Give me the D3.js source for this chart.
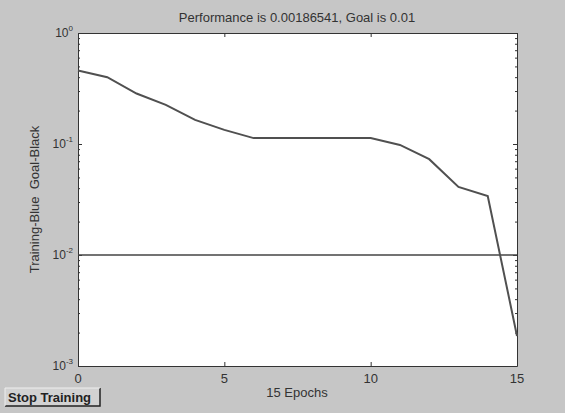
<!DOCTYPE html>
<html><head><meta charset="utf-8">
<script src="https://cdn.jsdelivr.net/npm/d3@7"></script>
<style>
html,body{margin:0;padding:0;background:#c6c6c6;}
svg{display:block;font-family:"Liberation Sans",Arial,sans-serif;}
</style></head><body>
<svg id="c" width="565" height="413"></svg>
<script>
const epochs = [0,1,2,3,4,5,6,7,8,9,10,11,12,13,14,15];
const performance = [0.46,0.40,0.285,0.225,0.165,0.134,0.113,0.113,0.113,0.113,0.113,0.098,0.073,0.041,0.034,0.00186541];
const goal = 0.01;
const xTicks = [0,5,10,15];
const yMajor = [-3,-2,-1,0];
const titleText = "Performance is 0.00186541, Goal is 0.01";
const xLabel = "15 Epochs";
const yLabel = "Training-Blue  Goal-Black";
const buttonText = "Stop Training";

const W=565,H=413;
const m={l:78,t:33,r:517,b:366};
const svg=d3.select("#c");
svg.append("rect").attr("width",W).attr("height",H).attr("fill","#c6c6c6");

const x=d3.scaleLinear().domain([0,15]).range([m.l,m.r]);
const y=d3.scaleLog().domain([1e-3,1]).range([m.b,m.t]);

svg.append("rect").attr("x",m.l).attr("y",m.t).attr("width",m.r-m.l).attr("height",m.b-m.t).attr("fill","#fff");

const ax=(g)=>g.selectAll(".domain").attr("stroke","#333");
const minor=[];
for(let e=-3;e<0;e++){for(let k=2;k<=9;k++)minor.push(k*Math.pow(10,e));}
const majorV=yMajor.map(e=>Math.pow(10,e));

svg.append("g").attr("transform",`translate(0,${m.b})`)
 .call(d3.axisBottom(x).tickValues(xTicks).tickSizeInner(-4).tickSizeOuter(0).tickFormat(""))
 .call(ax).selectAll("line").attr("stroke","#333");
svg.append("g").attr("transform",`translate(0,${m.t})`)
 .call(d3.axisTop(x).tickValues(xTicks).tickSizeInner(-4).tickSizeOuter(0).tickFormat(""))
 .call(ax).selectAll("line").attr("stroke","#333");
svg.append("g").attr("transform",`translate(${m.l},0)`)
 .call(d3.axisLeft(y).tickValues(majorV).tickSizeInner(-4).tickSizeOuter(0).tickFormat(""))
 .call(ax).selectAll("line").attr("stroke","#333");
svg.append("g").attr("transform",`translate(${m.l},0)`)
 .call(d3.axisLeft(y).tickValues(minor).tickSizeInner(-2).tickSizeOuter(0).tickFormat(""))
 .call(g=>g.select(".domain").remove()).selectAll("line").attr("stroke","#333");
svg.append("g").attr("transform",`translate(${m.r},0)`)
 .call(d3.axisRight(y).tickValues(majorV).tickSizeInner(-4).tickSizeOuter(0).tickFormat(""))
 .call(ax).selectAll("line").attr("stroke","#333");
svg.append("g").attr("transform",`translate(${m.r},0)`)
 .call(d3.axisRight(y).tickValues(minor).tickSizeInner(-2).tickSizeOuter(0).tickFormat(""))
 .call(g=>g.select(".domain").remove()).selectAll("line").attr("stroke","#333");

const tc="#333";
svg.selectAll(".xt").data(xTicks).join("text").attr("x",d=>x(d)).attr("y",m.b+17)
 .attr("text-anchor","middle").attr("font-size",13).attr("fill",tc).text(d=>d);
const yl=svg.selectAll(".yt").data(yMajor).join("text").attr("x",m.l-5).attr("y",d=>y(Math.pow(10,d))+4)
 .attr("text-anchor","end").attr("font-size",12).attr("fill",tc);
yl.append("tspan").text("10");
yl.append("tspan").attr("dy",-6).attr("font-size",8).text(d=>d);

svg.append("line").attr("x1",m.l).attr("x2",m.r).attr("y1",y(goal)).attr("y2",y(goal))
 .attr("stroke","#444").attr("stroke-width",1.6);

svg.append("path").datum(epochs.map((e,i)=>[e,performance[i]]))
 .attr("d",d3.line().x(d=>x(d[0])).y(d=>y(d[1])))
 .attr("fill","none").attr("stroke","#505050").attr("stroke-width",2);

svg.append("text").attr("x",297).attr("y",22).attr("text-anchor","middle")
 .attr("font-size",13).attr("fill",tc).text(titleText);
svg.append("text").attr("x",297).attr("y",397).attr("text-anchor","middle")
 .attr("font-size",13).attr("fill",tc).text(xLabel);
svg.append("text").attr("transform",`translate(39,${(m.t+m.b)/2}) rotate(-90)`).attr("text-anchor","middle")
 .attr("font-size",13).attr("fill",tc).attr("xml:space","preserve").text(yLabel);

const bg=svg.append("g");
bg.append("rect").attr("x",5).attr("y",388).attr("width",95).attr("height",18).attr("fill","#d2d2d2");
bg.append("path").attr("d","M5,406 L100,406 L100,388").attr("fill","none").attr("stroke","#222").attr("stroke-width",1.5);
bg.append("path").attr("d","M5,406 L5,388 L100,388").attr("fill","none").attr("stroke","#eee").attr("stroke-width",1);
bg.append("text").attr("x",8).attr("y",402).attr("font-size",13).attr("font-weight","bold").attr("fill","#222").text(buttonText);
</script></body></html>
